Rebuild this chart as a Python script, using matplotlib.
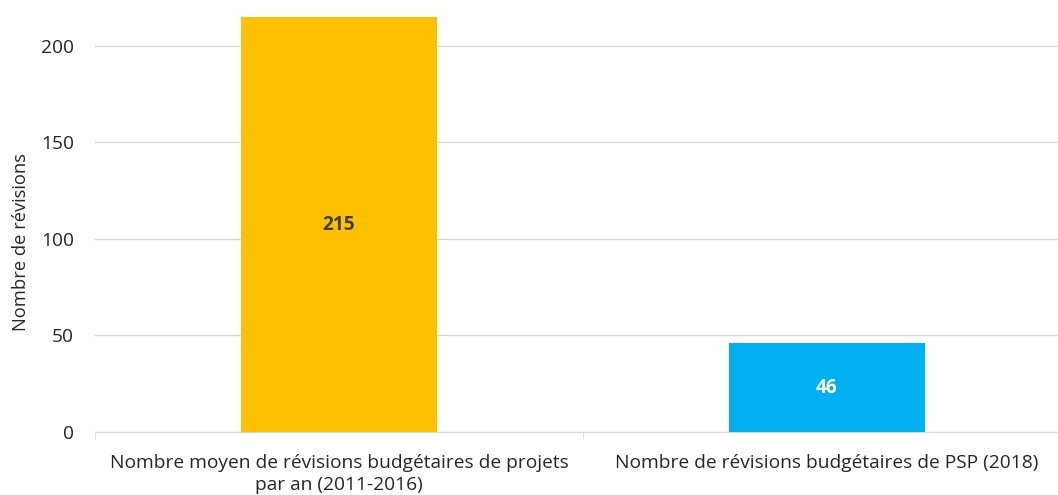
import matplotlib.pyplot as plt
import numpy as np

plt.rcParams['font.family'] = ['Open Sans', 'DejaVu Sans']

categories = ["Nombre moyen de révisions budgétaires de projets\npar an (2011-2016)",
              "Nombre de révisions budgétaires de PSP (2018)"]
values = [215, 46]
colors = ["#FFC000", "#00B0F0"]
label_colors = ["#404040", "white"]

fs = 13.8

fig = plt.figure(figsize=(10.58, 4.95), dpi=100)
ax = fig.add_axes([95 / 1058, 63 / 495, 976 / 1058, 415 / 495])

x = np.arange(len(values))
bars = ax.bar(x, values, width=0.4, color=colors, zorder=3)

for b, v, c in zip(bars, values, label_colors):
    ax.text(b.get_x() + b.get_width() / 2, v / 2, str(v), ha="center", va="center",
            fontsize=fs, fontweight="bold", color=c, zorder=4)

ax.set_xlim(-0.5, 1.5)
ax.set_ylim(0, 215)
ax.set_yticks([0, 50, 100, 150, 200])
ax.yaxis.grid(True, color="#D9D9D9", linewidth=1, zorder=0)
ax.tick_params(axis="y", length=0, labelsize=fs, colors="#262626", pad=15)

ax.set_xticks(x)
ax.set_xticklabels(categories, fontsize=fs, color="#262626", multialignment="center",
                   linespacing=1.25)
ax.tick_params(axis="x", length=0, pad=16)
ax.set_xticks([-0.5, 0.5, 1.5], minor=True)
ax.tick_params(axis="x", which="minor", length=5, color="#D9D9D9")

for s in ["top", "right", "left"]:
    ax.spines[s].set_visible(False)
ax.spines["bottom"].set_color("#D9D9D9")

ax.set_ylabel("Nombre de révisions", fontsize=13.2, color="#262626")
ax.yaxis.set_label_coords(-0.067, 0.458)

fig.savefig("out.png", dpi=100)
